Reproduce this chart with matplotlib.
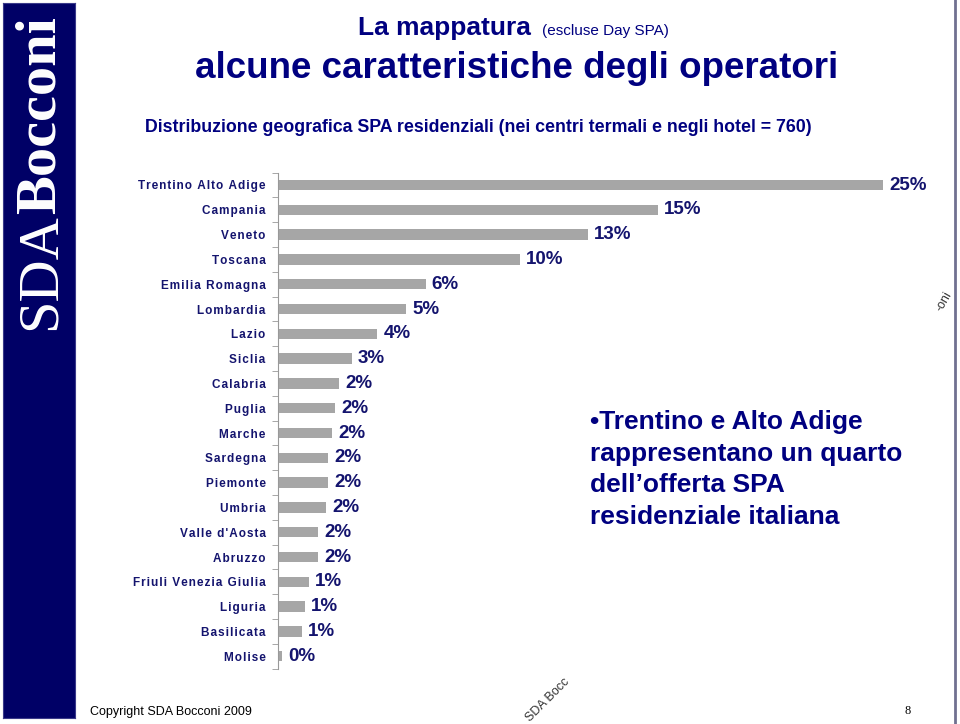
import matplotlib
matplotlib.use("Agg")
import matplotlib.pyplot as plt
import numpy as np

regions = ["Trentino Alto Adige", "Campania", "Veneto", "Toscana", "Emilia Romagna",
           "Lombardia", "Lazio", "Siclia", "Calabria", "Puglia", "Marche", "Sardegna",
           "Piemonte", "Umbria", "Valle d'Aosta", "Abruzzo", "Friuli Venezia Giulia",
           "Liguria", "Basilicata", "Molise"]
share = [25.0, 15.7, 12.8, 10.0, 6.1, 5.3, 4.1, 3.06, 2.52, 2.36, 2.23, 2.07,
         2.07, 1.98, 1.65, 1.65, 1.28, 1.12, 0.99, 0.17]
share_labels = ["25%", "15%", "13%", "10%", "6%", "5%", "4%", "3%", "2%", "2%", "2%", "2%",
                "2%", "2%", "2%", "2%", "1%", "1%", "1%", "0%"]

plt.rcParams['font.family'] = ['Liberation Sans', 'DejaVu Sans']
navy = '#14146e'
W, H = 960, 724


def spaced(s):
    # the slide uses letter-spaced labels
    return "\u200a".join(s)


fig = plt.figure(figsize=(9.6, 7.24), dpi=100)

# left band with logo
band = fig.add_axes([3/W, 1 - 718/H, 72/W, 715/H])
band.set_facecolor('#000066')
band.set_xticks([]); band.set_yticks([])
for s in band.spines.values():
    s.set_color('#3a3a8a')
fig.text(41/W, 1 - 330/H, "SDA", rotation=90, color='white', fontsize=42,
         family='Liberation Serif', ha='center', va='bottom')
fig.text(41/W, 1 - 214/H, "Bocconi", rotation=90, color='white', fontsize=42,
         family='Liberation Serif', weight='bold', ha='center', va='bottom')

# right border line
fig.add_artist(plt.Line2D([955/W, 955/W], [0, 1], color='#707090', lw=2))

# titles
fig.text(358/W, 1 - 28/H, "La mappatura", fontsize=19, weight='bold', color='#000080',
         va='center', ha='left')
fig.text(542/W, 1 - 31/H, "(escluse Day SPA)", fontsize=11, color='#000080',
         va='center', ha='left')
fig.text(517/W, 1 - 68/H, "alcune caratteristiche degli operatori", fontsize=26.5,
         weight='bold', color='#000080', va='center', ha='center')
fig.text(478/W, 1 - 128/H,
         "Distribuzione geografica SPA residenziali (nei centri termali e negli hotel = 760)",
         fontsize=12.8, weight='bold', color='#000080', va='center', ha='center')

# bar chart
ax = fig.add_axes([278/W, 1 - 668.6/H, (28 * 24.2)/W, 496/H])
y = np.arange(len(regions))
ax.barh(y, share, height=0.42, color='#a6a6a6')
for yi, v, lab in zip(y, share, share_labels):
    ax.text(v + 0.25, yi, lab, va='center', ha='left', fontsize=13.5,
            weight='bold', color=navy)
ax.set_xlim(0, 28)
ax.set_ylim(len(regions) - 0.5, -0.5)
ax.set_yticks(y)
ax.set_yticklabels([spaced(r) for r in regions], fontsize=8.5, weight='bold', color=navy)
ax.tick_params(axis='y', which='major', length=0, pad=9)
ax.set_yticks(np.arange(-0.5, len(regions)), minor=True)
ax.tick_params(axis='y', which='minor', length=4, color='#999999', direction='out')
ax.set_xticks([])
for side in ['top', 'right', 'bottom']:
    ax.spines[side].set_visible(False)
ax.spines['left'].set_color('#999999')
ax.patch.set_alpha(0)

# comment text
fig.text(590/W, 1 - 410/H,
         "\u2022Trentino e Alto Adige\nrappresentano un quarto\ndell\u2019offerta SPA\nresidenziale italiana",
         fontsize=19, weight='bold', color='#000080', va='top', ha='left', linespacing=1.40)

# footer
fig.text(90/W, 1 - 712/H, "Copyright SDA Bocconi 2009", fontsize=9, color='black',
         va='center', ha='left')
fig.text(908/W, 1 - 711/H, "8", fontsize=9, family='Liberation Serif', color='black',
         va='center', ha='center')
fig.text(548/W, 1 - 700/H, "SDA Bocc", fontsize=9, rotation=45, color='#333333',
         va='center', ha='center')
fig.text(944/W, 1 - 302/H, "-oni", fontsize=9, rotation=60, color='#333333',
         va='center', ha='center')

fig.savefig("out.png", dpi=100)
